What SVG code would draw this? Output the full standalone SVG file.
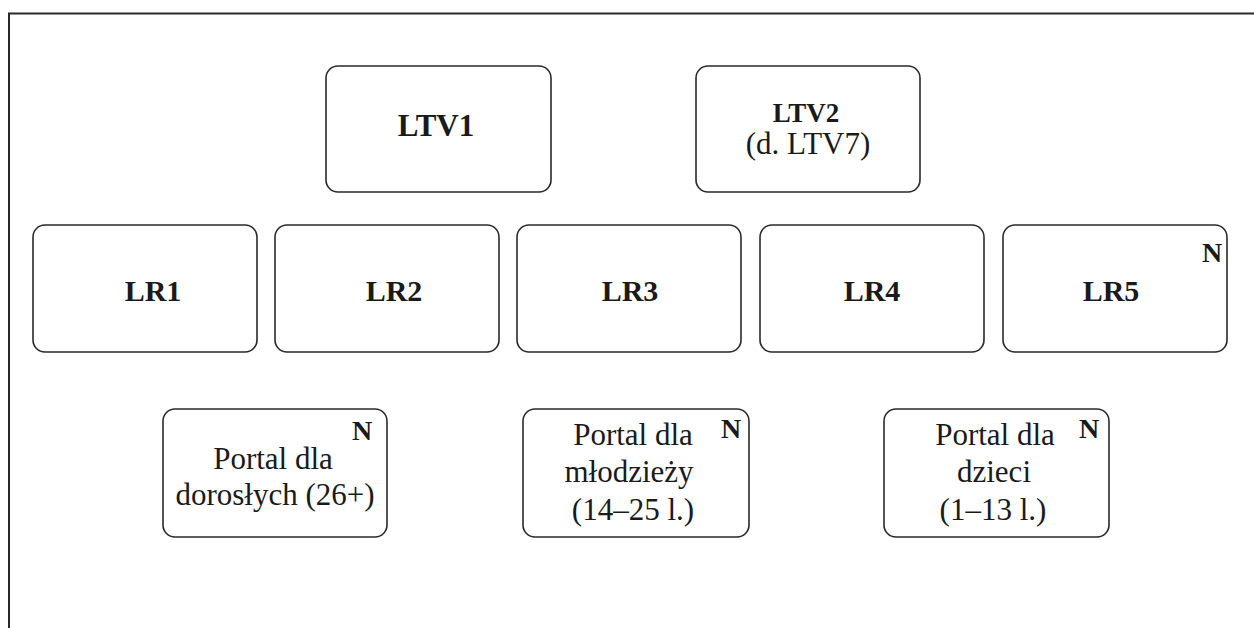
<svg xmlns="http://www.w3.org/2000/svg" width="1254" height="628" viewBox="0 0 1254 628">
<style>
.box{fill:#fff;stroke:#2a2a2a;stroke-width:1.6}
.b{font-family:"Liberation Serif","Times New Roman",serif;font-weight:bold;fill:#1a1a1a;text-anchor:middle}
.r{font-family:"Liberation Serif","Times New Roman",serif;fill:#1a1a1a;text-anchor:middle;font-size:31px}
.n{font-family:"Liberation Serif","Times New Roman",serif;font-weight:bold;fill:#1a1a1a;font-size:28px;text-anchor:middle}
</style>
<rect width="1254" height="628" fill="#fff"/>
<g id="frame" fill="none" stroke="#2a2a2a" stroke-width="2">
<path d="M9 628 V13.5 H1254"/>
</g>
<g id="connectors"></g>
<g id="ltv1"><rect class="box" x="326" y="66" width="225" height="126" rx="12"/><text class="b" x="436" y="136" font-size="31">LTV1</text></g>
<g id="ltv2"><rect class="box" x="696" y="66" width="224" height="126" rx="12"/><text class="b" x="806" y="122" font-size="27">LTV2</text><text class="r" x="808" y="154" font-size="27">(d. LTV7)</text></g>
<g id="lr1"><rect class="box" x="33" y="225" width="224" height="127" rx="12"/><text class="b" x="153" y="301" font-size="30">LR1</text></g>
<g id="lr2"><rect class="box" x="275" y="225" width="224" height="127" rx="12"/><text class="b" x="394" y="301" font-size="30">LR2</text></g>
<g id="lr3"><rect class="box" x="517" y="225" width="224" height="127" rx="12"/><text class="b" x="630" y="301" font-size="30">LR3</text></g>
<g id="lr4"><rect class="box" x="760" y="225" width="224" height="127" rx="12"/><text class="b" x="872" y="301" font-size="30">LR4</text></g>
<g id="lr5"><rect class="box" x="1003" y="225" width="224" height="127" rx="12"/><text class="b" x="1111" y="301" font-size="30">LR5</text><text class="n" x="1212" y="262">N</text></g>
<g id="portal1"><rect class="box" x="163" y="409" width="224" height="128" rx="12"/><text class="r" x="273" y="469">Portal dla</text><text class="r" x="275" y="505">dorosłych (26+)</text><text class="n" x="362" y="440">N</text></g>
<g id="portal2"><rect class="box" x="523" y="409" width="226" height="128" rx="12"/><text class="r" x="633" y="445">Portal dla</text><text class="r" x="629" y="482">młodzieży</text><text class="r" x="633" y="520">(14–25 l.)</text><text class="n" x="731" y="438">N</text></g>
<g id="portal3"><rect class="box" x="884" y="409" width="225" height="128" rx="12"/><text class="r" x="995" y="445">Portal dla</text><text class="r" x="994" y="482">dzieci</text><text class="r" x="993" y="520">(1–13 l.)</text><text class="n" x="1089" y="438">N</text></g>
</svg>
